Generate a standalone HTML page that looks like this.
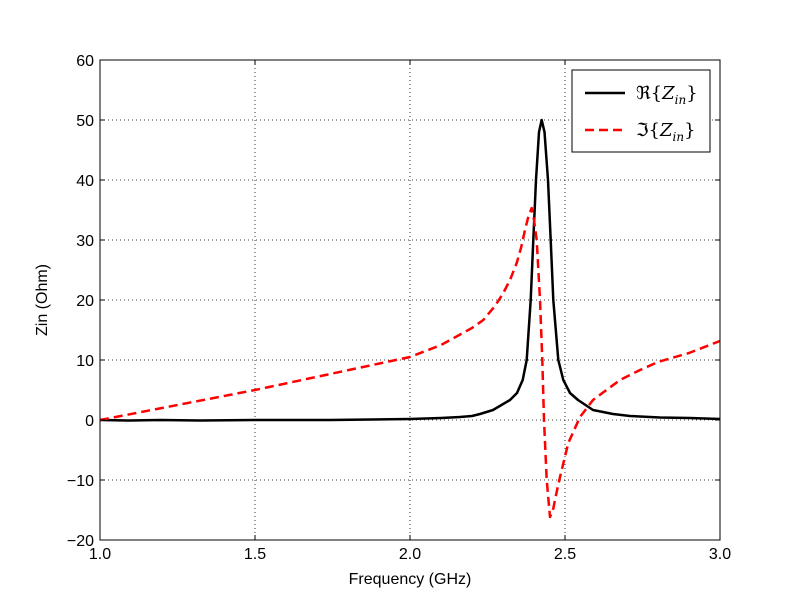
<!DOCTYPE html>
<html><head><meta charset="utf-8"><style>body{margin:0;background:#fff}</style></head><body>
<svg width="800" height="600" xmlns="http://www.w3.org/2000/svg" font-family="Liberation Sans, DejaVu Sans, sans-serif">
<rect width="800" height="600" fill="#fff"/>
<g stroke="#000" stroke-width="0.8" stroke-dasharray="1,3">
<line x1="255" y1="60" x2="255" y2="540"/><line x1="410" y1="60" x2="410" y2="540"/><line x1="565" y1="60" x2="565" y2="540"/>
<line x1="100" y1="120" x2="720" y2="120"/><line x1="100" y1="180" x2="720" y2="180"/><line x1="100" y1="240" x2="720" y2="240"/><line x1="100" y1="300" x2="720" y2="300"/><line x1="100" y1="360" x2="720" y2="360"/><line x1="100" y1="420" x2="720" y2="420"/><line x1="100" y1="480" x2="720" y2="480"/>
</g>
<polyline fill="none" stroke="#000" stroke-width="2.5" stroke-linejoin="round" points="100,420 130,420.5 160,420 200,420.5 255,420 330,420 410,419 441,418 460,417 472,416 480,414 493,410 510,400 517,393 522.7,380 526.7,360 530.7,300 533.3,240 536,180 539,132 541.7,120 544.5,132 548,180 550.7,240 553.3,300 558.3,360 563.3,380 570,393 578,400 593,410 613,414 630,416 660,417.5 690,418 720,419"/>
<polyline fill="none" stroke="#f00" stroke-width="2.5" stroke-dasharray="9,5" stroke-linejoin="round" points="100,420 255,390 410,357 441,345 472,328 483.3,320 495,306 503.3,293 510,280 516.7,263 521,248 525,230 528.5,216 531.7,208 534,220 536.7,240 540,300 542.3,360 544,420 546.7,480 550,517 553,510 556,495 560,477 568.3,443 580,417 593,400 620,380 640,370 658,362 689,353 720,341"/>
<rect x="100" y="60" width="620" height="480" fill="none" stroke="#000" stroke-width="1"/>
<g stroke="#000" stroke-width="1">
<line x1="255" y1="540" x2="255" y2="535"/><line x1="410" y1="540" x2="410" y2="535"/><line x1="565" y1="540" x2="565" y2="535"/>
<line x1="255" y1="60" x2="255" y2="65"/><line x1="410" y1="60" x2="410" y2="65"/><line x1="565" y1="60" x2="565" y2="65"/>
<line x1="100" y1="120" x2="105" y2="120"/><line x1="100" y1="180" x2="105" y2="180"/><line x1="100" y1="240" x2="105" y2="240"/><line x1="100" y1="300" x2="105" y2="300"/><line x1="100" y1="360" x2="105" y2="360"/><line x1="100" y1="420" x2="105" y2="420"/><line x1="100" y1="480" x2="105" y2="480"/>
<line x1="720" y1="120" x2="715" y2="120"/><line x1="720" y1="180" x2="715" y2="180"/><line x1="720" y1="240" x2="715" y2="240"/><line x1="720" y1="300" x2="715" y2="300"/><line x1="720" y1="360" x2="715" y2="360"/><line x1="720" y1="420" x2="715" y2="420"/><line x1="720" y1="480" x2="715" y2="480"/>
</g>
<g font-size="16" text-anchor="middle">
<text x="100" y="559">1.0</text><text x="255" y="559">1.5</text><text x="410" y="559">2.0</text><text x="565" y="559">2.5</text><text x="720" y="559">3.0</text>
<text x="410" y="584">Frequency (GHz)</text>
</g>
<g font-size="16" text-anchor="end">
<text x="94" y="66">60</text><text x="94" y="126">50</text><text x="94" y="186">40</text><text x="94" y="246">30</text><text x="94" y="306">20</text><text x="94" y="366">10</text><text x="94" y="426">0</text><text x="94" y="486">−10</text><text x="94" y="546">−20</text>
</g>
<text x="47" y="300" font-size="16" text-anchor="middle" transform="rotate(-90 47 300)">Zin (Ohm)</text>
<rect x="572" y="70" width="138" height="82" fill="#fff" stroke="#000" stroke-width="1"/>
<line x1="585" y1="93" x2="625" y2="93" stroke="#000" stroke-width="2.5"/>
<line x1="585" y1="130" x2="625" y2="130" stroke="#f00" stroke-width="2.5" stroke-dasharray="9,5"/>
<text x="636" y="99" font-size="18" font-family="DejaVu Serif, serif">ℜ{<tspan font-style="italic">Z</tspan><tspan font-size="12" font-style="italic" dy="5">in</tspan><tspan dy="-5">}</tspan></text>
<text x="636" y="136" font-size="18" font-family="DejaVu Serif, serif">ℑ{<tspan font-style="italic">Z</tspan><tspan font-size="12" font-style="italic" dy="5">in</tspan><tspan dy="-5">}</tspan></text>
</svg>
</body></html>
